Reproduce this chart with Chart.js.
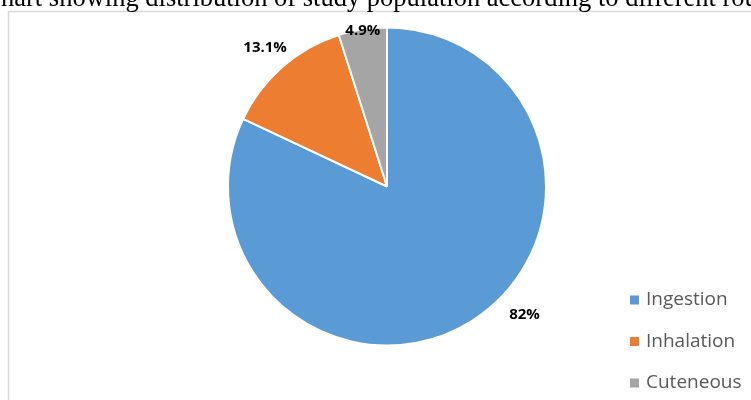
<!DOCTYPE html>
<html>
<head>
<meta charset="utf-8">
<script src="https://cdn.jsdelivr.net/npm/chart.js@4.4.1/dist/chart.umd.min.js"></script>
<style>
    body { margin: 0; background: #fff; overflow: hidden; }
    #wrap { position: relative; width: 751px; height: 400px; overflow: hidden; }
    #title { position: absolute; top: -16px; left: -14px; white-space: nowrap;
        font-family: "Liberation Serif", serif; font-size: 26.5px; line-height: 26.5px; color: #000; }
    canvas { position: absolute; left: 0; top: 0; }
</style>
</head>
<body>
<div id="wrap">
    <canvas id="pieCanvas" width="751" height="400"></canvas>
    <div id="title">Chart showing distribution of study population according to different routes</div>
</div>
<script>
let routes = ['Ingestion', 'Inhalation', 'Cuteneous'];
let percentages = [82, 13.1, 4.9];
let sliceColors = ['#5B9BD5', '#ED7D31', '#A5A5A5'];

// label placement (style, not data): distance from centre, optional fixed angle in degrees
let labelDistance = [188, 185, 158];
let labelAngle = [43, null, null];

// shift title so the "C" is cut off like in the picture
let measure = document.createElement('canvas').getContext('2d');
measure.font = '26.5px "Liberation Serif"';
document.getElementById('title').style.left = (1 - measure.measureText('C').width) + 'px';

let framePlugin = {
    id: 'frame',
    beforeDraw(chart) {
        let ctx = chart.ctx;
        ctx.save();
        ctx.strokeStyle = '#d9d9d9';
        ctx.lineWidth = 1.5;
        ctx.beginPath();
        ctx.moveTo(8.5, 400);
        ctx.lineTo(8.5, 11.5);
        ctx.lineTo(751, 11.5);
        ctx.stroke();
        ctx.restore();
    }
};

let labelPlugin = {
    id: 'sliceLabels',
    afterDatasetsDraw(chart) {
        let ctx = chart.ctx;
        let meta = chart.getDatasetMeta(0);
        ctx.save();
        ctx.font = 'bold 15px "Open Sans"';
        ctx.fillStyle = '#000';
        ctx.textAlign = 'center';
        ctx.textBaseline = 'middle';
        meta.data.forEach(function (arc, i) {
            let p = arc.getProps(['x', 'y', 'startAngle', 'endAngle']);
            let a = labelAngle[i] !== null ? labelAngle[i] * Math.PI / 180 : (p.startAngle + p.endAngle) / 2;
            let x = p.x + Math.cos(a) * labelDistance[i];
            let y = p.y + Math.sin(a) * labelDistance[i];
            ctx.fillText(chart.data.datasets[0].data[i] + '%', x, y);
        });
        ctx.restore();
    }
};

let legendPlugin = {
    id: 'sideLegend',
    afterDraw(chart) {
        let ctx = chart.ctx;
        ctx.save();
        ctx.font = '19px "Open Sans"';
        ctx.textBaseline = 'middle';
        chart.data.labels.forEach(function (name, i) {
            let y = 300 + i * 41.5;
            ctx.fillStyle = sliceColors[i];
            ctx.fillRect(630, y - 4.5, 9, 9);
            ctx.fillStyle = '#595959';
            ctx.fillText(name, 646, y);
        });
        ctx.restore();
    }
};

new Chart(document.getElementById('pieCanvas'), {
    type: 'pie',
    data: {
        labels: routes,
        datasets: [{
            data: percentages,
            backgroundColor: sliceColors,
            borderColor: '#ffffff',
            borderWidth: 2
        }]
    },
    options: {
        responsive: false,
        animation: false,
        radius: 159,
        layout: { padding: { left: 23, right: 0, top: 0, bottom: 27 } },
        plugins: {
            legend: { display: false },
            tooltip: { enabled: false }
        }
    },
    plugins: [framePlugin, labelPlugin, legendPlugin]
});
</script>
</body>
</html>
